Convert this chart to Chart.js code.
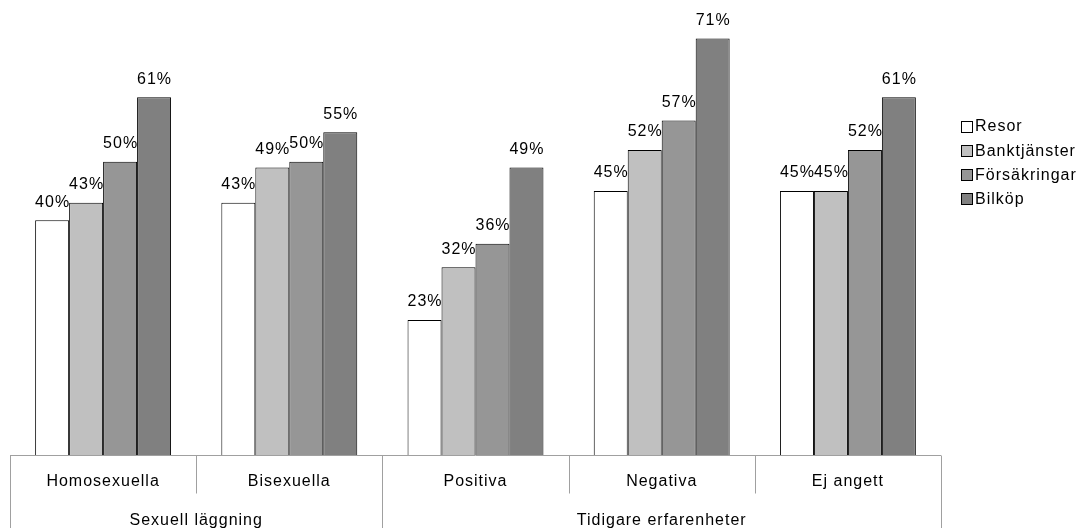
<!DOCTYPE html>
<html>
<head>
<meta charset="utf-8">
<script src="https://cdn.jsdelivr.net/npm/chart.js@4/dist/chart.umd.min.js"></script>
<style>
  html, body { margin: 0; padding: 0; background: #fff; }
  #wrap { width: 1083px; height: 528px; }
</style>
</head>
<body>
<div id="wrap"><canvas id="c" width="1083" height="528"></canvas></div>
<script>
// Categories and their parent groups
const categories = ['Homosexuella', 'Bisexuella', 'Positiva', 'Negativa', 'Ej angett'];
const groups = [
  { label: 'Sexuell läggning', from: 0, to: 1 },
  { label: 'Tidigare erfarenheter', from: 2, to: 4 }
];

// Series (percent)
const seriesNames = ['Resor', 'Banktjänster', 'Försäkringar', 'Bilköp'];
const resor        = [40, 43, 23, 45, 45];
const banktjanster = [43, 49, 32, 52, 45];
const forsakringar = [50, 50, 36, 57, 52];
const bilkop       = [61, 55, 49, 71, 61];
const seriesColors = ['#FFFFFF', '#C0C0C0', '#969696', '#808080'];

const FONT = '16px "Liberation Sans", Arial, sans-serif';
const SPACING = '1px';

function setText(ctx) {
  ctx.font = FONT;
  ctx.fillStyle = '#000';
  try { ctx.letterSpacing = SPACING; } catch (e) {}
}

// Value labels above each bar
const valueLabels = {
  id: 'valueLabels',
  afterDatasetsDraw(chart) {
    const ctx = chart.ctx;
    ctx.save();
    setText(ctx);
    ctx.textAlign = 'center';
    ctx.textBaseline = 'middle';
    chart.data.datasets.forEach((ds, i) => {
      const meta = chart.getDatasetMeta(i);
      meta.data.forEach((bar, j) => {
        ctx.fillText(ds.data[j] + '%', bar.x + 0.5, bar.y - 18);
      });
    });
    ctx.restore();
  }
};

// Two-level category axis below the plot
const groupAxis = {
  id: 'groupAxis',
  afterDraw(chart) {
    const ctx = chart.ctx;
    const area = chart.chartArea;
    const n = categories.length;
    const w = (area.right - area.left) / n;
    const base = Math.round(area.bottom) + 0.5;
    const H = chart.height;
    ctx.save();
    ctx.strokeStyle = '#A0A0A0';
    ctx.lineWidth = 1;
    ctx.beginPath();
    ctx.moveTo(area.left, base);
    ctx.lineTo(area.right, base);
    // dividers between categories
    for (let i = 0; i <= n; i++) {
      const x = Math.round(area.left + i * w) + 0.5;
      const isGroupEdge = i === 0 || i === n || groups.some(g => g.from === i);
      ctx.moveTo(x, base);
      ctx.lineTo(x, isGroupEdge ? H : base + 38);
    }
    ctx.stroke();

    setText(ctx);
    ctx.textAlign = 'center';
    ctx.textBaseline = 'middle';
    categories.forEach((c, i) => {
      ctx.fillText(c, area.left + (i + 0.5) * w, base + 26);
    });
    groups.forEach(g => {
      const x0 = area.left + g.from * w;
      const x1 = area.left + (g.to + 1) * w;
      ctx.fillText(g.label, (x0 + x1) / 2, base + 65);
    });
    ctx.restore();
  }
};

// Legend at the right
const sideLegend = {
  id: 'sideLegend',
  afterDraw(chart) {
    const ctx = chart.ctx;
    ctx.save();
    setText(ctx);
    ctx.textAlign = 'left';
    ctx.textBaseline = 'middle';
    const x = 961, y0 = 126, step = 24.3, box = 11;
    chart.data.datasets.forEach((ds, i) => {
      const y = y0 + i * step;
      ctx.fillStyle = ds.backgroundColor;
      ctx.fillRect(x + 0.5, Math.round(y - box / 2) + 0.5, box, box);
      ctx.strokeStyle = '#000';
      ctx.lineWidth = 1;
      ctx.strokeRect(x + 0.5, Math.round(y - box / 2) + 0.5, box, box);
      ctx.fillStyle = '#000';
      ctx.fillText(ds.label, x + box + 3, y + 1);
    });
    ctx.restore();
  }
};

const seriesData = [resor, banktjanster, forsakringar, bilkop];

new Chart(document.getElementById('c'), {
  type: 'bar',
  data: {
    labels: categories,
    datasets: seriesNames.map((name, i) => ({
      label: name,
      data: seriesData[i],
      backgroundColor: seriesColors[i],
      borderColor: '#000000',
      borderWidth: 1,
      barPercentage: 1.0,
      categoryPercentage: 0.73
    }))
  },
  options: {
    responsive: false,
    animation: false,
    events: [],
    layout: { padding: { left: 10, right: 142, top: 15, bottom: 73 } },
    plugins: {
      legend: { display: false },
      tooltip: { enabled: false }
    },
    scales: {
      x: { display: false },
      y: { display: false, min: 0, max: 75 }
    }
  },
  plugins: [valueLabels, groupAxis, sideLegend]
});
</script>
</body>
</html>
